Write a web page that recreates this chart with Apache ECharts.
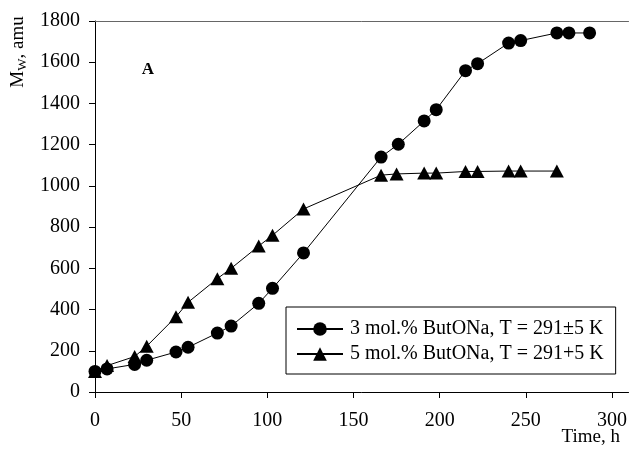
<!DOCTYPE html>
<html>
<head>
<meta charset="utf-8">
<script src="https://cdn.jsdelivr.net/npm/echarts@6/dist/echarts.min.js"></script>
<style>html,body{margin:0;padding:0;background:#fff}#c{width:630px;height:456px}</style>
</head>
<body>
<div id="c"></div>
<script>
var timeCircle = [0, 7, 23, 30, 47, 54, 71, 79, 95, 103, 121, 166, 176, 191, 198, 215, 222, 240, 247, 268, 275, 287];
var mw3 = [100, 112, 134, 154, 194, 217, 286, 320, 430, 503, 675, 1140, 1202, 1315, 1370, 1559, 1593, 1693, 1705, 1742, 1742, 1742];
var timeTri = [0, 7, 23, 30, 47, 54, 71, 79, 95, 103, 121, 166, 175, 191, 198, 215, 222, 240, 247, 268];
var mw5 = [100, 128, 172, 222, 365, 435, 550, 600, 708, 760, 888, 1052, 1058, 1062, 1062, 1070, 1070, 1072, 1072, 1072];
var seriesNames = ['3 mol.% ButONa, T = 291\u00B15 K', '5 mol.% ButONa, T = 291+5 K'];
var xTicks = [0, 50, 100, 150, 200, 250, 300];
var yTicks = [0, 200, 400, 600, 800, 1000, 1200, 1400, 1600, 1800];

function pairs(xs, ys) { return xs.map(function (x, i) { return [x, ys[i]]; }); }

var FF = '"Liberation Serif", "Times New Roman", serif';
var chart = echarts.init(document.getElementById('c'), null, {renderer: 'canvas'});
chart.setOption({
  animation: false,
  backgroundColor: '#fff',
  textStyle: {fontFamily: FF, color: '#000'},
  grid: {left: 95, right: 0, top: 21, bottom: 64, containLabel: false},
  xAxis: [{
    type: 'value', min: 0, max: 309.6,
    axisLine: {show: true, onZero: false, lineStyle: {color: '#000', width: 1}},
    axisTick: {show: true, inside: false, length: 6, lineStyle: {color: '#000'}, customValues: xTicks},
    axisLabel: {fontFamily: FF, fontSize: 20, color: '#000', margin: 19, customValues: xTicks,
      formatter: function (v) { return String(v); }},
    splitLine: {show: false}
  }, {
    type: 'value', position: 'top', min: 0, max: 309.6,
    axisLine: {show: true, onZero: false, lineStyle: {color: '#666', width: 1}},
    axisTick: {show: false}, axisLabel: {show: false}, splitLine: {show: false}
  }],
  yAxis: {
    type: 'value', min: 0, max: 1800, interval: 200,
    axisLine: {show: true, onZero: false, lineStyle: {color: '#000', width: 1}},
    axisTick: {show: true, inside: false, length: 6, lineStyle: {color: '#000'}, customValues: yTicks},
    axisLabel: {fontFamily: FF, fontSize: 20, color: '#000', margin: 15, customValues: yTicks,
      formatter: function (v) { return String(v); }},
    splitLine: {show: false}
  },
  legend: {
    orient: 'vertical', left: 286, top: 307, width: 334,
    backgroundColor: '#fff', borderColor: '#000', borderWidth: 1,
    padding: [12, 12, 10, 10], itemGap: 5, itemWidth: 46, itemHeight: 17,
    textStyle: {fontFamily: FF, fontSize: 20, color: '#000', padding: [0, 0, 0, 2]},
    data: seriesNames
  },
  series: [{
    name: seriesNames[0], type: 'line', data: pairs(timeCircle, mw3),
    symbol: 'circle', symbolSize: 13,
    lineStyle: {color: '#000', width: 1}, itemStyle: {color: '#000'}
  }, {
    name: seriesNames[1], type: 'line', data: pairs(timeTri, mw5),
    symbol: 'triangle', symbolSize: [14, 13],
    lineStyle: {color: '#000', width: 1}, itemStyle: {color: '#000'}
  }],
  graphic: [{
    type: 'text', x: 148, y: 70, style: {text: 'A', font: 'bold 17px ' + FF, fill: '#000', align: 'center', verticalAlign: 'middle'}
  }, {
    type: 'text', x: 620, y: 437, style: {text: 'Time, h', font: '19px ' + FF, fill: '#000', align: 'right', verticalAlign: 'middle'}
  }, {
    type: 'text', x: 18, y: 52, rotation: Math.PI / 2,
    style: {
      text: '{m|M}{s|W}{m|, amu}', align: 'center', verticalAlign: 'middle',
      rich: {
        m: {fontFamily: FF, fontSize: 19, fill: '#000', lineHeight: 22},
        s: {fontFamily: FF, fontSize: 13, fill: '#000', verticalAlign: 'bottom', padding: [8, 0, 0, 0]}
      }
    }
  }]
});
</script>
</body>
</html>
